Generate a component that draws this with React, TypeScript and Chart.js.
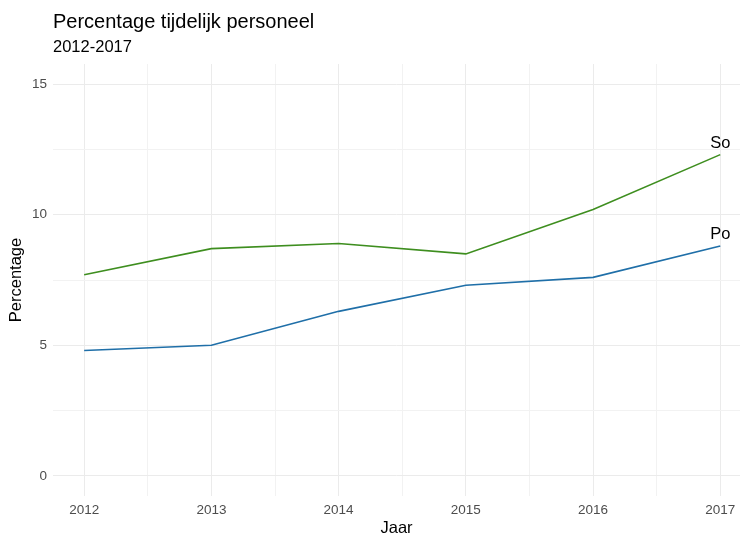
import React, { useEffect, useRef } from "react";
import { Chart, registerables } from "chart.js";

Chart.register(...registerables);

const years = [2012, 2013, 2014, 2015, 2016, 2017];
const soValues = [7.7, 8.7, 8.9, 8.5, 10.2, 12.3];
const poValues = [4.8, 5.0, 6.3, 7.3, 7.6, 8.8];
const seriesLabels = ["So", "Po"];
const xTickValues = [2012, 2012.5, 2013, 2013.5, 2014, 2014.5, 2015, 2015.5, 2016, 2016.5, 2017];
const yTickValues = [0, 2.5, 5, 7.5, 10, 12.5, 15];
const chartTitle = "Percentage tijdelijk personeel";
const chartSubtitle = "2012-2017";
const xTitle = "Jaar";
const yTitle = "Percentage";

const FONT = "'Liberation Sans', Arial, sans-serif";
const colors = ["#3e8e1f", "#1f6fa8"];

const annotatePlugin = {
  id: "annotate",
  afterDraw(chart: any) {
    const { ctx, chartArea } = chart;
    ctx.save();
    ctx.fillStyle = "#000000";
    ctx.textAlign = "left";
    ctx.textBaseline = "alphabetic";
    ctx.font = `20px ${FONT}`;
    ctx.fillText(chartTitle, chartArea.left, 28);
    ctx.font = `16.5px ${FONT}`;
    ctx.fillText(chartSubtitle, chartArea.left, 52);
    ctx.font = `16.5px ${FONT}`;
    ctx.textAlign = "center";
    chart.data.datasets.forEach((ds: any, i: number) => {
      const meta = chart.getDatasetMeta(i);
      const last = meta.data[meta.data.length - 1];
      if (last) ctx.fillText(seriesLabels[i], last.x, last.y - 7);
    });
    ctx.restore();
  },
};

export default function App() {
  const ref = useRef<HTMLCanvasElement | null>(null);
  useEffect(() => {
    if (!ref.current) return;
    const isMajorX = (v: number) => Number.isInteger(v);
    const isMajorY = (v: number) => v % 5 === 0;
    const chart = new Chart(ref.current, {
      type: "line",
      data: {
        datasets: [soValues, poValues].map((vals, i) => ({
          label: seriesLabels[i],
          data: years.map((x, j) => ({ x, y: vals[j] })),
          borderColor: colors[i],
          backgroundColor: colors[i],
          borderWidth: 1.6,
          pointRadius: 0,
          tension: 0,
          fill: false,
        })),
      },
      options: {
        animation: false,
        responsive: true,
        maintainAspectRatio: false,
        layout: { padding: { top: 64, left: 0, right: 0, bottom: 0 } },
        plugins: {
          legend: { display: false },
          tooltip: { enabled: false },
          title: { display: false },
        },
        scales: {
          x: {
            type: "linear",
            min: 2011.755,
            max: 2017.155,
            afterBuildTicks: (axis: any) => {
              axis.ticks = xTickValues.map((v) => ({ value: v }));
            },
            afterFit: (axis: any) => {
              axis.height = 39;
              axis.paddingLeft = 0;
              axis.paddingRight = 0;
            },
            ticks: {
              autoSkip: false,
              maxRotation: 0,
              padding: 6,
              color: "#4d4d4d",
              font: { family: FONT, size: 13.5 },
              callback: (v: any) => (isMajorX(Number(v)) ? String(v) : ""),
            },
            grid: {
              drawTicks: false,
              color: (c: any) => (c.tick && isMajorX(c.tick.value) ? "#ebebeb" : "#f2f2f2"),
              lineWidth: 1,
            },
            border: { display: false },
            title: {
              display: true,
              text: xTitle,
              color: "#000000",
              font: { family: FONT, size: 16.5 },
              padding: { top: 0, bottom: -3 },
            },
          },
          y: {
            type: "linear",
            min: -0.77,
            max: 15.77,
            afterBuildTicks: (axis: any) => {
              axis.ticks = yTickValues.map((v) => ({ value: v }));
            },
            afterFit: (axis: any) => {
              axis.width = 53;
              axis.paddingTop = 0;
              axis.paddingBottom = 0;
            },
            ticks: {
              autoSkip: false,
              padding: 6,
              color: "#4d4d4d",
              font: { family: FONT, size: 13.5 },
              callback: (v: any) => (isMajorY(Number(v)) ? String(v) : ""),
            },
            grid: {
              drawTicks: false,
              color: (c: any) => (c.tick && isMajorY(c.tick.value) ? "#ebebeb" : "#f2f2f2"),
              lineWidth: 1,
            },
            border: { display: false },
            title: {
              display: true,
              text: yTitle,
              color: "#000000",
              font: { family: FONT, size: 16.5 },
              padding: { top: 7, bottom: 0 },
            },
          },
        },
      },
      plugins: [annotatePlugin],
    });
    return () => chart.destroy();
  }, []);
  return (
    <div style={{ position: "absolute", left: 0, top: 0, width: 740, height: 535, background: "#ffffff" }}>
      <canvas ref={ref} />
    </div>
  );
}
